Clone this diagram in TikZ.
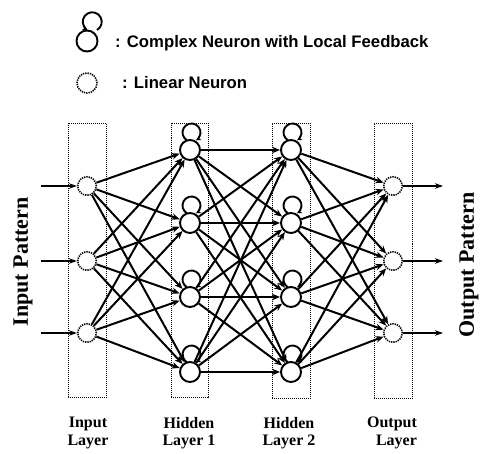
\documentclass[tikz,border=0pt]{standalone}
\usepackage{fontspec}
\setmainfont{Liberation Serif}
\newfontfamily\legfont{Liberation Sans}
\usetikzlibrary{arrows.meta}
\tikzset{
  x=1pt,y=1pt,
  arr/.style={line width=2pt,-{Stealth[length=8pt,width=6.5pt]}},
  inarr/.style={line width=1.4pt,-{Stealth[length=8pt,width=5.5pt]}},
  cneuron/.style={circle,draw,line width=1.9pt,fill=white,minimum size=20pt,inner sep=0pt},
  lneuron/.style={circle,draw,line width=1.6pt,dash pattern=on 1.3pt off 1pt,fill=white,minimum size=18.5pt,inner sep=0pt},
  layerbox/.style={draw,line width=1pt,dash pattern=on 1pt off 1pt,rectangle,inner sep=0pt},
  looparr/.style={line width=1.9pt,-{Stealth[length=5pt,width=5pt]}},
  layerlabel/.style={font=\bfseries\fontsize{16}{17.5}\selectfont,align=center},
  patlabel/.style={font=\bfseries\fontsize{22}{24}\selectfont,rotate=90},
  legtext/.style={font=\legfont\bfseries\fontsize{16.7}{18}\selectfont,anchor=base west,inner sep=0pt}
}
\begin{document}
\begin{tikzpicture}
\useasboundingbox (0,0) rectangle (484,453);
% legend
\node[cneuron,minimum size=21pt] (lc) at (87,412) {};
\draw[looparr] ([shift={(97.0,423.0)}]0,0) arc[start angle=-60, end angle=240, radius=9.5];
\node[legtext] (lt1) at (115,405) {: Complex Neuron with Local Feedback};
\node[lneuron,minimum size=20pt] (ll) at (87,370) {};
\node[legtext] (lt2) at (122,364) {: Linear Neuron};
% layer boxes
\node[layerbox,minimum width=38pt,minimum height=274pt] (b1) at (87,192.5) {};
\node[layerbox,minimum width=37pt,minimum height=274pt] (b2) at (189.5,192.5) {};
\node[layerbox,minimum width=38pt,minimum height=275pt] (b3) at (291,192) {};
\node[layerbox,minimum width=38pt,minimum height=275pt] (b4) at (393,192) {};
% neurons
\foreach \i/\y in {1/267,2/192,3/120}{
  \node[lneuron] (i\i) at (87,\y) {};
  \node[lneuron] (o\i) at (393,\y) {};
}
\foreach \i/\y in {1/303,2/230,3/156,4/81}{
  \node[cneuron] (h\i) at (190,\y) {};
  \node[cneuron] (k\i) at (291,\y) {};
}
% connections
\foreach \a in {1,2,3}{\foreach \b in {1,2,3,4}{\draw[arr] (i\a) -- (h\b);}}
\foreach \a in {1,2,3,4}{\foreach \b in {1,2,3,4}{\draw[arr] (h\a) -- (k\b);}}
\foreach \a in {1,2,3,4}{\foreach \b in {1,2,3}{\draw[arr] (k\a) -- (o\b);}}
% local feedback loops
\foreach \n in {h1,h2,h3,h4,k1,k2,k3,k4}{
  \draw[looparr] ([shift={(-3,9.7)}]\n.center) arc[start angle=240, end angle=-60, radius=9];
}
% inputs and outputs
\foreach \i/\y in {1/267,2/192,3/120}{
  \coordinate (s\i) at (41,\y);
  \coordinate (t\i) at (443,\y);
  \draw[inarr] (s\i) -- (i\i);
  \draw[inarr] (o\i) -- (t\i);
}
% labels
\node[patlabel] (ip) at (23,191) {Input Pattern};
\node[patlabel] (op) at (469,188) {Output Pattern};
\node[layerlabel] (l1) at (88,20) {Input\\Layer};
\node[layerlabel] (l2) at (189,20) {Hidden\\Layer 1};
\node[layerlabel] (l3) at (289,20) {Hidden\\Layer 2};
\node[layerlabel,align=right] (l4) at (392,20) {Output\\Layer};
\end{tikzpicture}
\end{document}
